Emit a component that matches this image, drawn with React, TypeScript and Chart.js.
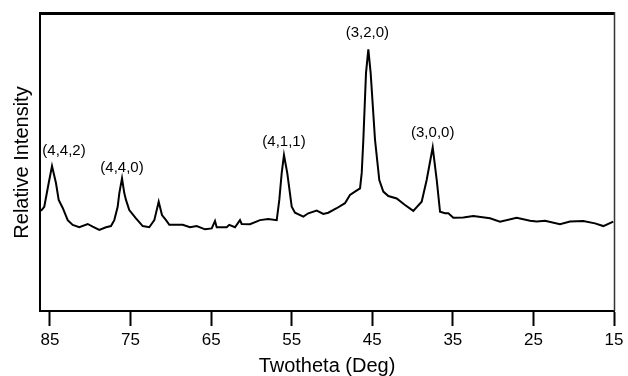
import React, { useEffect, useRef } from "react";
import { Chart, registerables } from "chart.js";

Chart.register(...registerables);

// Diffraction angle (2θ, degrees) of each sampled point of the scan
const twotheta: number[] = [
  86.12, 85.71, 85.16, 84.75, 84.26, 83.92, 83.42, 82.8, 82.18, 81.36, 80.32,
  79.7, 78.88, 78.05, 77.43, 77.02, 76.6, 76.4, 76.06, 75.78, 75.57, 75.16, 74.33,
  73.49, 72.68, 72.05, 71.51, 71.1, 70.6, 70.19, 68.53, 67.62, 66.79,
  65.76, 64.93, 64.52, 64.31, 63.07, 62.75, 62.04, 61.42, 61.21, 60.18,
  58.94, 57.91, 56.86, 56.54, 56.24, 55.96, 55.55, 55.0, 54.59, 53.56,
  52.94, 51.9, 51.08, 50.46, 49.42, 48.39, 47.77, 47.15, 46.52, 46.31,
  46.11, 45.78, 45.49, 45.2, 44.66, 44.13, 43.63, 43.01, 41.97, 40.94, 39.91, 38.87, 38.25,
  37.5, 37.0, 36.59, 35.97, 35.56, 34.94, 33.7, 32.46, 30.39, 29.15,
  27.08, 25.42, 24.59, 23.56, 21.7, 20.46, 18.81, 17.36, 16.33, 15.09,
];

// Relative intensity at each angle (arbitrary units, 0–100)
const intensity: number[] = [
  33.7, 35.1, 43.1, 48.8, 43.1, 37.4, 34.7, 30.6, 29.0, 28.2, 29.3,
  28.4, 27.3, 28.2, 28.6, 30.6, 35.1, 39.6, 44.7, 39.7, 37.4, 34.0, 31.2,
  28.6, 28.2, 30.6, 36.8, 32.3, 30.6, 29.0, 29.0, 28.2, 28.6,
  27.5, 27.8, 30.3, 28.2, 28.2, 29.0, 28.2, 30.6, 29.3, 29.2,
  30.6, 31.0, 30.6, 37.4, 46.5, 52.5, 46.4, 35.1, 33.1, 31.8,
  32.9, 33.8, 32.7, 33.1, 34.6, 36.3, 39.1, 40.2, 41.3, 46.5,
  57.6, 80.1, 88.1, 80.1, 57.6, 44.1, 40.2, 38.7, 37.9, 35.7, 33.7, 36.8, 44.1,
  55.1, 44.1, 33.4, 32.9, 32.9, 31.4, 31.5, 32.0, 31.2, 30.1,
  31.4, 30.4, 30.1, 30.4, 29.2, 30.1, 30.3, 29.5, 28.6, 30.1,
];

// Indexed reflections (Miller indices) and the angle of each peak
const peakLabels: string[] = ["(4,4,2)", "(4,4,0)", "(4,1,1)", "(3,2,0)", "(3,0,0)"];
const peakTwotheta: number[] = [84.75, 76.06, 55.96, 45.49, 37.5];

// Axis tick values
const xTicks: number[] = [85, 75, 65, 55, 45, 35, 25, 15];

// Pixel nudges for the reflection labels relative to their peak tops
const labelNudge: [number, number][] = [
  [12, -15],
  [0, -10],
  [0, -13],
  [-1, -16],
  [0, -14],
];

const FONT = "'Liberation Sans', Arial, Helvetica, sans-serif";

const framePlugin = {
  id: "frame",
  afterDraw(chart: any) {
    const { ctx, chartArea } = chart;
    ctx.save();
    ctx.strokeStyle = "#000";
    ctx.lineWidth = 3;
    ctx.beginPath();
    ctx.moveTo(chartArea.left - 1, chartArea.top - 0.5);
    ctx.lineTo(chartArea.right + 1, chartArea.top - 0.5);
    ctx.stroke();
    ctx.strokeStyle = "#333";
    ctx.lineWidth = 1.5;
    ctx.beginPath();
    ctx.moveTo(chartArea.right + 0.5, chartArea.top - 2);
    ctx.lineTo(chartArea.right + 0.5, chartArea.bottom);
    ctx.stroke();
    ctx.restore();
  },
};

const peakLabelPlugin = {
  id: "peakLabels",
  afterDatasetsDraw(chart: any) {
    const { ctx, scales } = chart;
    ctx.save();
    ctx.fillStyle = "#000";
    ctx.font = `15px ${FONT}`;
    ctx.textAlign = "center";
    ctx.textBaseline = "middle";
    peakLabels.forEach((label, i) => {
      let best = 0;
      twotheta.forEach((t, j) => {
        if (Math.abs(t - peakTwotheta[i]) < Math.abs(twotheta[best] - peakTwotheta[i])) best = j;
      });
      const px = scales.x.getPixelForValue(twotheta[best]);
      const py = scales.y.getPixelForValue(intensity[best]);
      ctx.fillText(label, px + labelNudge[i][0], py + labelNudge[i][1]);
    });
    ctx.restore();
  },
};

export default function App() {
  const canvasRef = useRef<HTMLCanvasElement | null>(null);

  useEffect(() => {
    if (!canvasRef.current) return;
    const points = twotheta.map((t, i) => ({ x: t, y: intensity[i] }));
    const chart = new Chart(canvasRef.current, {
      type: "line",
      data: {
        datasets: [
          {
            data: points,
            borderColor: "#000",
            borderWidth: 2,
            pointRadius: 0,
            tension: 0,
            fill: false,
          },
        ],
      },
      options: {
        animation: false,
        responsive: false,
        devicePixelRatio: 1,
        layout: { padding: { left: 0, top: 14, right: 14, bottom: 0 } },
        plugins: {
          legend: { display: false },
          tooltip: { enabled: false },
        },
        scales: {
          x: {
            type: "linear",
            reverse: true,
            min: 15,
            max: 86.24,
            afterBuildTicks: (scale: any) => {
              scale.ticks = xTicks.map((v) => ({ value: v }));
            },
            afterFit: (scale: any) => {
              scale.height = 65;
            },
            grid: {
              display: true,
              drawOnChartArea: false,
              drawTicks: true,
              tickLength: 15,
              tickWidth: 2,
              tickColor: "#000",
            },
            border: { display: true, color: "#000", width: 2 },
            ticks: {
              color: "#000",
              padding: 4,
              font: { family: FONT, size: 17 },
              maxRotation: 0,
              autoSkip: false,
              callback: (v: any) => String(v),
            },
            title: {
              display: true,
              text: "Twotheta (Deg)",
              color: "#000",
              font: { family: FONT, size: 20, lineHeight: 1 },
              padding: 0,
            },
          },
          y: {
            type: "linear",
            min: 0,
            max: 100,
            afterFit: (scale: any) => {
              scale.width = 40;
            },
            grid: { display: false },
            border: { display: true, color: "#000", width: 2 },
            ticks: { display: false },
            title: {
              display: true,
              text: "Relative Intensity",
              color: "#000",
              font: { family: FONT, size: 20 },
              padding: { top: 10, bottom: 0 },
            },
          },
        },
      },
      plugins: [framePlugin, peakLabelPlugin],
    });
    return () => chart.destroy();
  }, []);

  return (
    <div style={{ position: "fixed", left: 0, top: 0, width: 628, height: 376, background: "#fff" }}>
      <canvas ref={canvasRef} width={628} height={376} />
    </div>
  );
}
